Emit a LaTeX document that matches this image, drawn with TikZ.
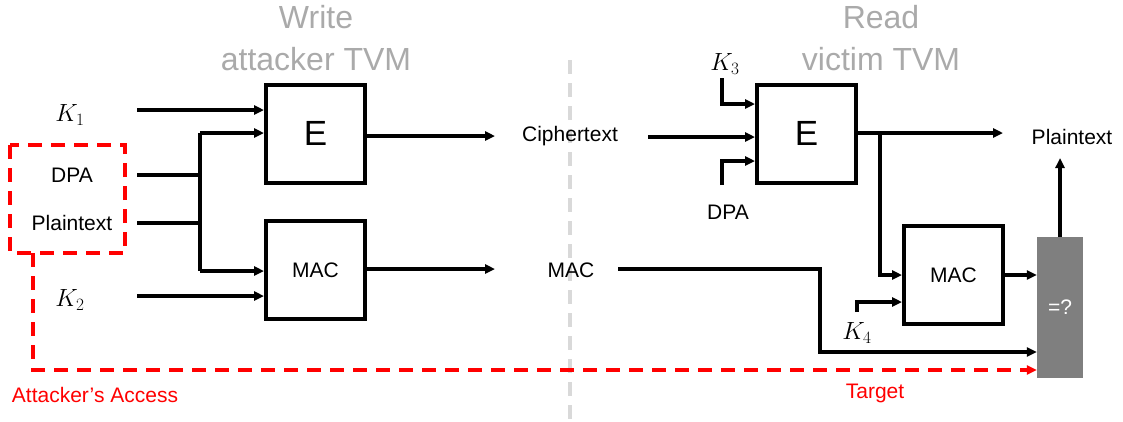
\documentclass[tikz,border=0pt]{standalone}
\usepackage{fontspec}
\setmainfont{Liberation Sans}
\usetikzlibrary{arrows.meta}
\definecolor{titlegray}{RGB}{170,170,170}
\definecolor{divgray}{RGB}{217,217,217}
\definecolor{boxgray}{RGB}{127,127,127}
\begin{document}
\begin{tikzpicture}[x=1pt,y=-1pt,
  lbl/.style={font=\fontsize{21}{25}\selectfont, inner sep=0pt},
  klbl/.style={font=\fontsize{24}{28}\selectfont, inner sep=0pt},
  ttl/.style={font=\fontsize{32}{40}\selectfont, text=titlegray, inner sep=0pt, anchor=base},
  blk/.style={draw, line width=4pt, minimum width=99pt, minimum height=98pt, inner sep=0pt},
  wire/.style={line width=3.2pt},
  conn/.style={wire, -{Triangle[length=10pt,width=9pt]}},
  reddash/.style={draw=red, line width=3.2pt, dash pattern=on 14pt off 9pt},
]
\useasboundingbox (0,0) rectangle (1123,421);

% titles
\node[ttl] (w1) at (316,28) {Write};
\node[ttl] (w2) at (316,70) {attacker TVM};
\node[ttl] (r1) at (881,28) {Read};
\node[ttl] (r2) at (881,70) {victim TVM};

% divider
\coordinate (div1) at (570,60);
\coordinate (div2) at (570,421);
\draw[divgray, line width=3.2pt, dash pattern=on 14pt off 9pt] (div1) -- (div2);

% blocks
\node[blk, font=\fontsize{35}{40}\selectfont] (E1) at (315.5,133.5) {E};
\node[blk, lbl] (MAC1) at (315.5,270) {MAC};
\node[blk, font=\fontsize{35}{40}\selectfont] (E2) at (806.5,133.5) {E};
\node[blk, lbl] (MAC2) at (953.5,275) {MAC};
\node[fill=boxgray, text=white, lbl, minimum width=46pt, minimum height=141pt] (eq) at (1060,307.5) {=?};

% left labels
\node[klbl] (k1) at (70,115) {$K_1$};
\node[lbl] (dpa1) at (72,175) {DPA};
\node[lbl] (pt1) at (72,223) {Plaintext};
\node[klbl] (k2) at (70,300) {$K_2$};

\coordinate (k1s) at (137,110);
\coordinate (dpa1s) at (137,175);
\coordinate (pt1s) at (137,223);
\coordinate (k2s) at (137,296);
\coordinate (busT) at (200,133);
\coordinate (busB) at (200,271);

\draw[conn] (k1s) -- (E1.west |- k1s);
\draw[wire] (dpa1s) -- (dpa1s -| busT);
\draw[wire] (pt1s) -- (pt1s -| busT);
\draw[wire] (busT) -- (busB);
\draw[conn] (busT) -- (E1.west |- busT);
\draw[conn] (busB) -- (MAC1.west |- busB);
\draw[conn] (k2s) -- (MAC1.west |- k2s);

% middle
\node[lbl] (ct) at (570,136) {Ciphertext};
\node[lbl] (macr) at (571,270) {MAC};
\coordinate (e1o) at (495,136);
\coordinate (m1o) at (495,269);
\draw[conn] (E1.east |- e1o) -- (e1o);
\draw[conn] (MAC1.east |- m1o) -- (m1o);

% right inputs
\node[klbl] (k3) at (725,64) {$K_3$};
\node[lbl] (dpa2) at (728,212) {DPA};
\node[klbl] (k4) at (857,333) {$K_4$};
\node[lbl] (pt2) at (1072,137) {Plaintext};

\coordinate (cin) at (648,137);
\draw[conn] (cin) -- (E2.west |- cin);
\coordinate (k3s) at (722,78);
\coordinate (k3e) at (0,104);
\draw[conn] (k3s) |- (E2.west |- k3e);
\coordinate (dpa2s) at (722,185);
\coordinate (dpa2e) at (0,161);
\draw[conn] (dpa2s) |- (E2.west |- dpa2e);

% E2 output and branch
\coordinate (e2o) at (0,133);
\coordinate (ptend) at (1003,133);
\coordinate (br) at (880,133);
\draw[conn] (E2.east |- e2o) -- (ptend);
\draw[conn] (br) |- (MAC2.west);

\coordinate (k4s) at (857,312);
\coordinate (k4e) at (0,302);
\draw[conn] (k4s) |- (MAC2.west |- k4e);

\draw[conn] (MAC2.east) -- (eq.west |- MAC2.east);
\coordinate (ptup) at (0,158);
\draw[conn] (eq.north) -- (eq.north |- ptup);

% received MAC path
\coordinate (mr) at (618,269);
\coordinate (mrc) at (820,269);
\coordinate (mry) at (0,352);
\draw[conn] (mr) -- (mrc) |- (eq.west |- mry);

% attacker access
\draw[reddash] (10,145) rectangle (125,253);
\coordinate (ra) at (33,253);
\coordinate (ry) at (0,370);
\draw[reddash, -{Triangle[length=10pt,width=9pt]}] (ra) |- (eq.west |- ry);
\node[lbl, text=red] (acc) at (95,395) {Attacker’s Access};
\node[lbl, text=red] (tg) at (875,393) {Target};
\end{tikzpicture}
\end{document}
